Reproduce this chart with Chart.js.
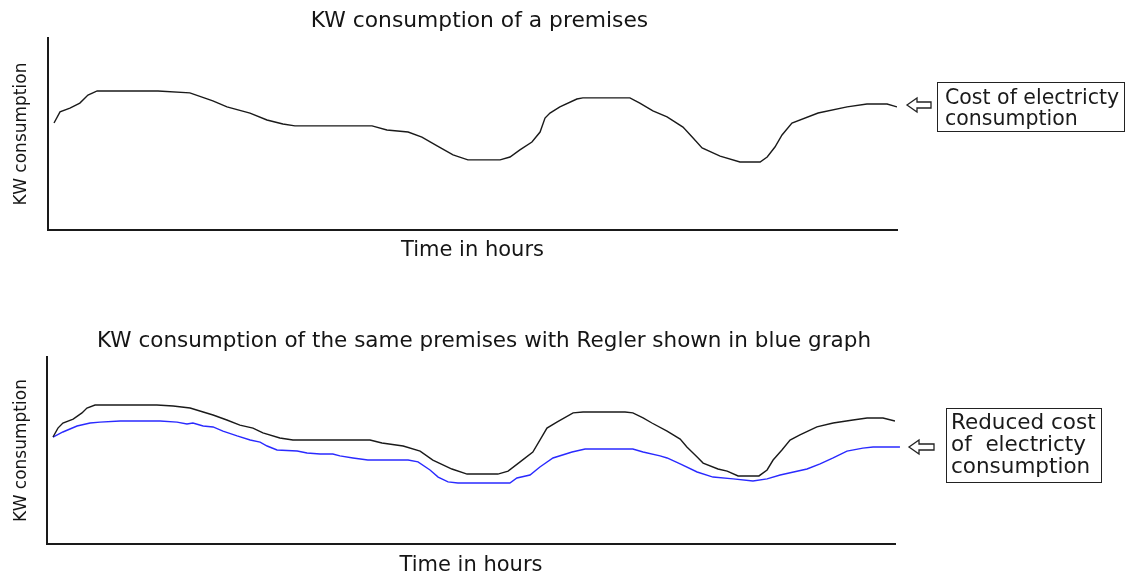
<!DOCTYPE html>
<html>
<head>
<meta charset="utf-8">
<script src="https://cdn.jsdelivr.net/npm/chart.js@4.4.1/dist/chart.umd.min.js"></script>
<style>
  html, body { margin: 0; padding: 0; background: #fff; overflow: hidden; }
  #wrap { position: relative; width: 1130px; height: 575px; }
  canvas { position: absolute; left: 0; }
  #cTop { top: 0; }
  #cBot { top: 280px; }
  .box { position: absolute; border: 1px solid #222; font-family: "DejaVu Sans", sans-serif; color: #1a1a1a; white-space: pre; box-sizing: border-box; }
  .arrow { position: absolute; }
</style>
</head>
<body>
<div id="wrap">
  <canvas id="cTop" width="1130" height="290"></canvas>
  <canvas id="cBot" width="1130" height="300"></canvas>
  <svg class="arrow" style="left:904px;top:94px" width="30" height="22" viewBox="0 0 30 22">
    <polygon points="3,11 13,4 13,8 27,8 27,14 13,14 13,18" fill="#fff" stroke="#222" stroke-width="1.3"/>
  </svg>
  <div class="box" style="left:937px;top:82px;width:188px;height:50px;padding:4px 0 0 7px;line-height:21px;font-size:20.5px;">Cost of electricty
consumption</div>
  <svg class="arrow" style="left:906px;top:436px" width="32" height="22" viewBox="0 0 32 22">
    <polygon points="3,11 13,4 13,8 28,8 28,14 13,14 13,18" fill="#fff" stroke="#222" stroke-width="1.3"/>
  </svg>
  <div class="box" style="left:946px;top:408px;width:156px;height:75px;padding:2px 0 0 4px;line-height:22px;font-size:21.5px;">Reduced cost
of  electricty
consumption</div>
</div>
<script>
// ---- data (hours on x, relative kW on y) ----
const topHours = [0.17,0.34,0.62,0.90,1.13,1.39,3.11,4.01,4.66,5.06,5.71,6.19,6.64,6.98,9.16,9.58,10.18,10.57,11.00,11.45,11.87,12.78,13.06,13.34,13.68,13.91,14.05,14.19,14.47,14.95,15.12,16.45,16.73,17.10,17.50,17.95,18.21,18.49,19.00,19.56,20.13,20.33,20.55,20.75,21.03,21.77,22.59,23.15,23.72,24.00];
const topKW    = [55.7,61.5,63.5,66.1,70.3,72.4,72.4,71.4,67.2,64.1,60.9,57.3,55.2,54.2,54.2,52.1,51.0,48.4,43.8,39.1,36.5,36.5,38.0,41.7,45.8,51.0,58.3,60.9,64.1,68.2,68.8,68.8,66.1,62.0,58.9,53.6,48.4,42.7,38.5,35.4,35.4,38.0,43.2,49.5,55.7,60.9,64.1,65.6,65.6,64.1];

const baseHours = [0.17,0.31,0.45,0.74,0.99,1.13,1.36,3.11,3.57,4.05,4.42,4.70,5.09,5.46,5.83,6.11,6.59,6.96,9.14,9.48,10.08,10.56,10.92,11.46,11.89,12.76,13.05,13.39,13.75,13.95,14.15,14.43,14.89,15.17,16.36,16.58,16.87,17.12,17.55,17.92,18.11,18.40,18.57,18.99,19.25,19.56,20.15,20.38,20.55,20.80,21.03,21.31,21.79,22.25,22.81,23.21,23.66,24.00];
const baseKW    = [57.2,62.0,64.7,66.8,70.1,72.7,74.3,74.3,73.8,72.7,70.6,69.0,66.3,63.6,62.0,59.4,56.7,55.6,55.6,54.0,52.4,49.7,44.9,40.1,37.4,37.4,39.0,43.9,49.2,55.6,62.0,65.2,70.1,70.6,70.6,70.1,67.4,64.7,60.4,56.1,51.9,46.5,43.3,40.1,39.0,36.4,36.4,39.6,44.9,50.3,55.6,58.3,62.6,64.7,66.3,67.4,67.4,65.8];

const reglerHours = [0.17,0.45,0.85,1.22,1.50,2.07,3.20,3.68,3.96,4.13,4.42,4.70,4.98,5.38,5.75,6.03,6.23,6.51,7.08,7.36,7.73,8.09,8.29,8.66,9.08,10.22,10.50,10.84,11.07,11.35,11.63,13.10,13.30,13.67,13.95,14.32,14.86,15.23,16.58,16.87,17.35,17.55,17.92,18.40,18.85,19.42,19.98,20.38,20.75,21.51,21.88,22.25,22.64,23.09,23.38,24.14];
const reglerKW    = [57.2,59.9,63.1,64.7,65.2,65.8,65.8,65.2,64.2,64.7,63.1,62.6,60.4,57.8,55.6,54.5,52.4,50.3,49.7,48.7,48.1,48.1,47.1,46.0,44.9,44.9,43.9,39.6,35.8,33.2,32.6,32.6,35.3,36.9,41.2,46.0,49.2,50.8,50.8,49.2,47.1,46.0,42.8,38.5,35.8,34.8,33.7,34.8,36.9,40.1,42.8,46.0,49.7,51.3,51.9,51.9];

const topTitle = 'KW consumption of a premises';
const botTitle = 'KW consumption of the same premises with Regler shown in blue graph';
const xTitle = 'Time in hours';
const yTitle = 'KW consumption';

const toXY = (xs, ys) => xs.map((x, i) => ({ x: x, y: ys[i] }));
const FONT = 'DejaVu Sans';

function makeOptions(cfg) {
  return {
    responsive: false,
    animation: false,
    events: [],
    layout: { padding: { left: 0, right: cfg.padRight, top: 0, bottom: cfg.padBottom } },
    plugins: {
      legend: { display: false },
      tooltip: { enabled: false },
      title: {
        display: true, text: cfg.title, color: '#151515',
        font: { family: FONT, size: cfg.titleSize, weight: 'normal' },
        padding: { top: cfg.titleTop, bottom: cfg.titleBottom }
      }
    },
    scales: {
      x: {
        type: 'linear', min: 0, max: 24,
        ticks: { display: false },
        grid: { display: false, drawTicks: false },
        border: { display: true, color: '#1a1a1a', width: 2 },
        title: { display: true, text: xTitle, color: '#151515',
                 font: { family: FONT, size: 21, weight: 'normal' },
                 padding: { top: 0, bottom: cfg.xTitleBottom } },
        afterFit: s => { s.height = cfg.xHeight; }
      },
      y: {
        type: 'linear', min: 0, max: 100,
        ticks: { display: false },
        grid: { display: false, drawTicks: false },
        border: { display: true, color: '#1a1a1a', width: 2 },
        title: { display: true, text: yTitle, color: '#151515',
                 font: { family: FONT, size: 17, weight: 'normal' },
                 padding: { top: 11.8, bottom: 0 } },
        afterFit: s => { s.width = cfg.yWidth; }
      },
      yR: {
        type: 'linear', position: 'right', display: true,
        ticks: { display: false },
        grid: { display: false, drawTicks: false },
        border: { display: false },
        afterFit: s => { s.width = cfg.rWidth; }
      }
    }
  };
}

new Chart(document.getElementById('cTop'), {
  type: 'line',
  data: { datasets: [{
    data: toXY(topHours, topKW), borderColor: '#1a1a1a', borderWidth: 1.4,
    pointRadius: 0, tension: 0, fill: false
  }]},
  options: makeOptions({ title: topTitle, titleSize: 21.8, padRight: 171, padBottom: 20, titleTop: 7.9, titleBottom: 3.9,
                         xHeight: 40, xTitleBottom: 6.4, yWidth: 48, rWidth: 62 })
});

new Chart(document.getElementById('cBot'), {
  type: 'line',
  data: { datasets: [
    { data: toXY(baseHours, baseKW), borderColor: '#1a1a1a', borderWidth: 1.4,
      pointRadius: 0, tension: 0, fill: false },
    { data: toXY(reglerHours, reglerKW), borderColor: '#2a2aff', borderWidth: 1.4,
      pointRadius: 0, tension: 0, fill: false, clip: false }
  ]},
  options: makeOptions({ title: botTitle, titleSize: 21.5, padRight: 162, padBottom: 0, titleTop: 48.1, titleBottom: 3.1,
                         xHeight: 36, xTitleBottom: 1.4, yWidth: 47, rWidth: 73 })
});
</script>
</body>
</html>
